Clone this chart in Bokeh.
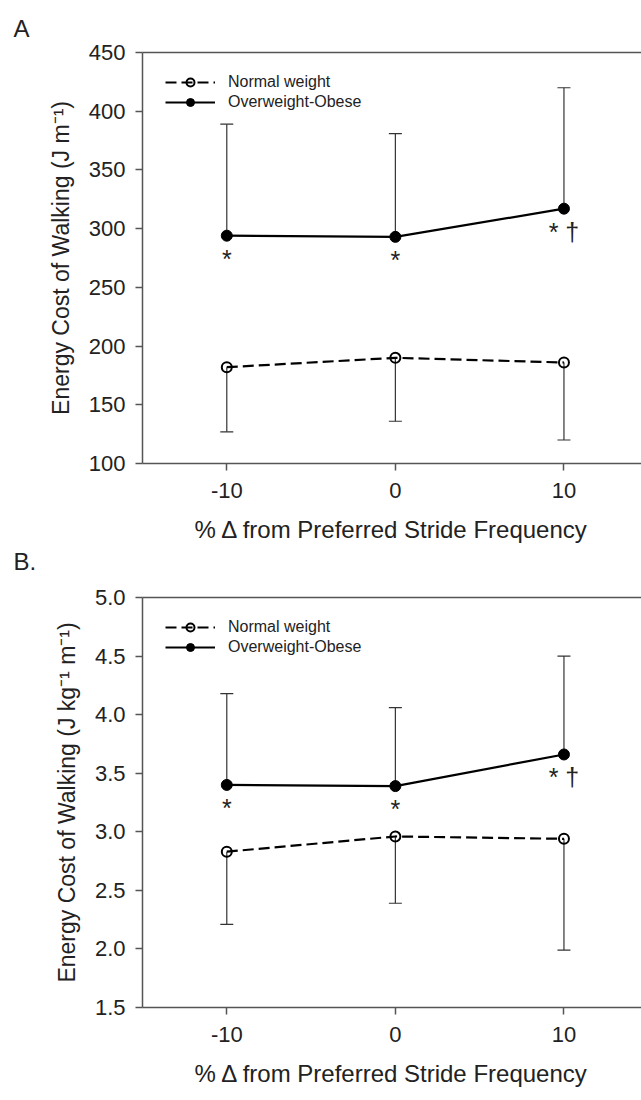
from bokeh.plotting import figure
from bokeh.models import (FixedTicker, PrintfTickFormatter, Whisker, ColumnDataSource,
                          Legend, LegendItem, Range1d, LinearAxis, TeeHead, Title)
from bokeh.layouts import column
from bokeh.embed import file_html
from bokeh.resources import INLINE
from bokeh.core.properties import value

# ---------------- data ----------------
stride_pct = [-10, 0, 10]
x_ticks = [-10, 0, 10]
x_title = "% \u0394 from Preferred Stride Frequency"
legend_labels = ["Normal weight", "Overweight-Obese"]
sig_labels = ["*", "*", "* \u2020"]
panel_letters = ["A", "B."]

# Panel A: energy cost (J m^-1)
a_normal = [182, 190, 186]
a_normal_lower = [127, 136, 120]
a_over = [294, 293, 317]
a_over_upper = [389, 381, 420]
a_ticks = [100, 150, 200, 250, 300, 350, 400, 450]
a_ylabel = "Energy Cost of Walking (J m\u207b\u00b9)"

# Panel B: energy cost (J kg^-1 m^-1)
b_normal = [2.83, 2.96, 2.94]
b_normal_lower = [2.21, 2.39, 1.99]
b_over = [3.40, 3.39, 3.66]
b_over_upper = [4.18, 4.06, 4.50]
b_ticks = [1.5, 2.0, 2.5, 3.0, 3.5, 4.0, 4.5, 5.0]
b_ylabel = "Energy Cost of Walking (J kg\u207b\u00b9 m\u207b\u00b9)"

FONT = "Liberation Sans"
TXT = "#222222"
AX = "#555555"
LEFT = 142


def letter_title(text, standoff):
    return Title(text=text, align="left", offset=13 - LEFT, text_font=FONT,
                 text_font_size="24px", text_font_style="normal",
                 text_color=TXT, standoff=standoff)


def make_panel(normal, normal_lo, over, over_hi, yticks, ylabel, fmt,
               top_border, frame_h, bottom_border):
    p = figure(frame_width=641 - LEFT, frame_height=frame_h,
               x_range=Range1d(-15, 14.6), y_range=Range1d(yticks[0], yticks[-1]),
               output_backend="svg", toolbar_location=None,
               min_border_left=LEFT, min_border_right=0,
               min_border_top=top_border, min_border_bottom=bottom_border)
    p.outline_line_color = None
    p.grid.visible = False
    p.background_fill_color = "white"
    p.border_fill_color = "white"

    xa = p.below[0]
    ya = p.left[0]
    for ax in (xa, ya):
        ax.axis_line_color = AX
        ax.axis_line_width = 1.5
        ax.major_tick_line_color = AX
        ax.major_tick_line_width = 1.5
        ax.major_tick_out = 7
        ax.major_tick_in = 0
        ax.minor_tick_line_color = None
        ax.major_label_text_font = FONT
        ax.major_label_text_font_size = "22px"
        ax.major_label_text_color = TXT
        ax.axis_label_text_font = FONT
        ax.axis_label_text_font_size = "23px"
        ax.axis_label_text_font_style = "normal"
        ax.axis_label_text_color = TXT

    xa.ticker = FixedTicker(ticks=x_ticks)
    xa.formatter = PrintfTickFormatter(format="%d")
    xa.major_label_standoff = 12
    xa.axis_label = x_title
    xa.axis_label_text_font_size = "24px"
    xa.axis_label_standoff = 15

    ya.ticker = FixedTicker(ticks=yticks)
    ya.major_label_standoff = 10
    ya.axis_label = ylabel
    ya.axis_label_standoff = 12
    ya.formatter = PrintfTickFormatter(format=fmt)

    # top frame line (no ticks, no labels)
    top_ax = LinearAxis(ticker=FixedTicker(ticks=[]), axis_line_color=AX,
                        axis_line_width=1.5, major_label_text_font_size="0px",
                        major_tick_line_color=None, minor_tick_line_color=None,
                        major_tick_out=0, major_label_standoff=0)
    p.add_layout(top_ax, "above")

    src = ColumnDataSource(dict(x=stride_pct, normal=normal, normal_lo=normal_lo,
                                over=over, over_hi=over_hi, sig=sig_labels))

    wn = Whisker(source=src, base="x", upper="normal", lower="normal_lo",
                 upper_head=None,
                 lower_head=TeeHead(size=13, line_color="#333333", line_width=1.2),
                 line_color="#333333", line_width=1.2, level="underlay")
    wo = Whisker(source=src, base="x", upper="over_hi", lower="over",
                 lower_head=None,
                 upper_head=TeeHead(size=13, line_color="#333333", line_width=1.2),
                 line_color="#333333", line_width=1.2, level="underlay")
    p.add_layout(wn)
    p.add_layout(wo)

    rn_l = p.line("x", "normal", source=src, line_color="black", line_width=2.2,
                  line_dash="11 5")
    rn_p = p.scatter("x", "normal", source=src, marker="circle", size=10,
                     fill_alpha=0, line_color="black", line_width=2)
    ro_l = p.line("x", "over", source=src, line_color="black", line_width=2.2)
    ro_p = p.scatter("x", "over", source=src, marker="circle", size=11,
                     fill_color="black", line_color="black")

    p.text("x", "over", text="sig", source=src, y_offset=23, text_align="center",
           text_baseline="middle", text_font=value(FONT), text_font_size="25px",
           text_color=TXT)

    leg = Legend(items=[LegendItem(label=legend_labels[0], renderers=[rn_l, rn_p]),
                        LegendItem(label=legend_labels[1], renderers=[ro_l, ro_p])],
                 location=(23, frame_h - 60), margin=0, padding=0, spacing=0,
                 glyph_width=50, glyph_height=20, label_height=20, label_standoff=13,
                 border_line_color=None, background_fill_alpha=0,
                 label_text_font=FONT, label_text_font_size="16px",
                 label_text_color=TXT)
    p.add_layout(leg)
    return p


pA = make_panel(a_normal, a_normal_lower, a_over, a_over_upper, a_ticks,
                a_ylabel, "%d", 52, 411, 0)
pA.title = letter_title(panel_letters[0], 21)
# letter of panel B sits directly under panel A's axis title
pA.add_layout(letter_title(panel_letters[1], 0), "below")

pB = make_panel(b_normal, b_normal_lower, b_over, b_over_upper, b_ticks,
                b_ylabel, "%.1f", 23, 410, 81)
pB.title.text = ""
pB.title.standoff = 0

layout = column(pA, pB, spacing=0)
open("out.html", "w").write(file_html(layout, INLINE))
